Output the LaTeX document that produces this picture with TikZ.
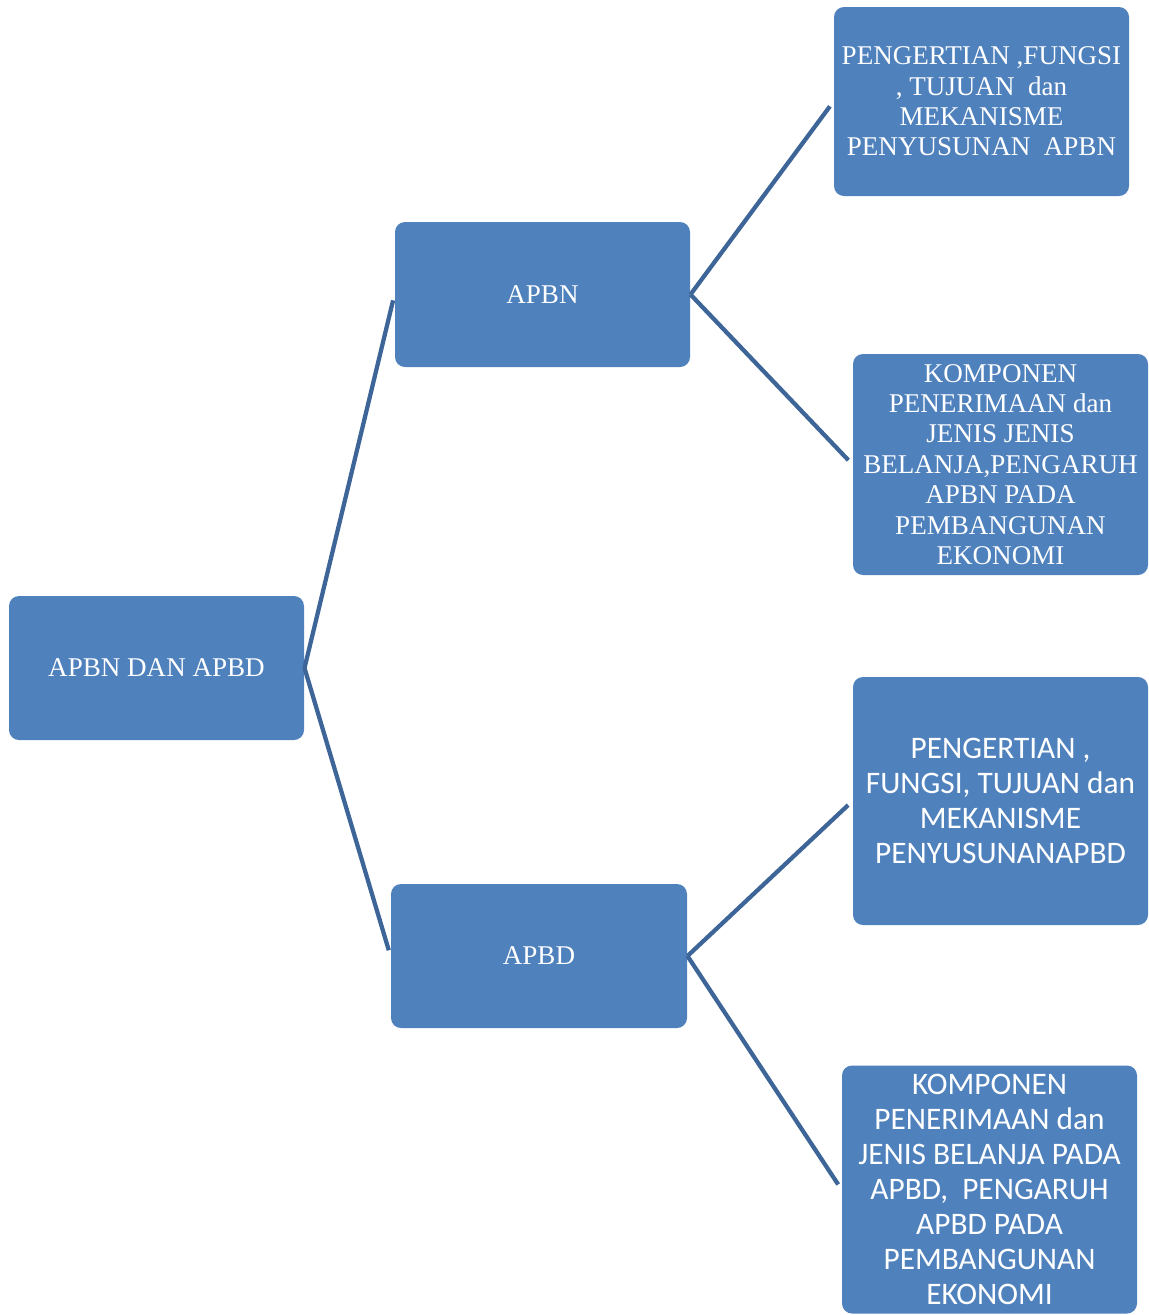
\documentclass[tikz,border=0pt]{standalone}
\usepackage{fontspec}
\setmainfont{Liberation Serif}
\newfontfamily\boxsans{Carlito}
\definecolor{boxblue}{RGB}{79,129,189}
\definecolor{linkblue}{RGB}{61,101,152}
\tikzset{
	box/.style={fill=boxblue, rounded corners=7.5pt, text=white, align=center,
		inner sep=0pt, font=\fontsize{20.3}{22.8}\selectfont},
	sansbox/.style={box, font=\boxsans\fontsize{23.5}{26.2}\selectfont},
	link/.style={draw=linkblue, line width=3.2pt, shorten >=4.5pt}}
\tikzset{every picture/.style={line width=0.75pt}}
\begin{document}
\begin{tikzpicture}[x=0.75pt,y=0.75pt,yscale=-1,xscale=1]
	\useasboundingbox (0,0) rectangle (1149,1315);

	% Nodes
	\node [box, minimum width=221.25pt, minimum height=108pt] (root) at (156.5,668) {APBN DAN APBD};
	\node [box, minimum width=221.25pt, minimum height=108.75pt] (apbn) at (542.5,294.5) {APBN};
	\node [box, minimum width=222pt, minimum height=108pt] (apbd) at (539,956) {APBD};
	\node [box, minimum width=221.25pt, minimum height=141.75pt] (apbnA) at (981.5,101.5) {PENGERTIAN ,FUNGSI\\, TUJUAN\ \ dan\\MEKANISME\\PENYUSUNAN\ \ APBN};
	\node [box, minimum width=221.25pt, minimum height=165.75pt] (apbnB) at (1000.5,464.5) {KOMPONEN\\PENERIMAAN dan\\JENIS JENIS\\BELANJA,PENGARUH\\APBN PADA\\PEMBANGUNAN\\EKONOMI};
	\node [sansbox, minimum width=221.25pt, minimum height=186pt] (apbdA) at (1000.5,801) {PENGERTIAN ,\\FUNGSI, TUJUAN dan\\MEKANISME\\PENYUSUNANAPBD};
	\node [sansbox, minimum width=221.25pt, minimum height=186pt] (apbdB) at (989.5,1189.5) {KOMPONEN\\PENERIMAAN dan\\JENIS BELANJA PADA\\APBD,\ \ PENGARUH\\APBD PADA\\PEMBANGUNAN\\EKONOMI};

	% Connectors
	\draw [link] (root.east) -- (apbn.west);
	\draw [link] (root.east) -- (apbd.west);
	\draw [link] (apbn.east) -- (apbnA.west);
	\draw [link] (apbn.east) -- (apbnB.west);
	\draw [link] (apbd.east) -- (apbdA.west);
	\draw [link] (apbd.east) -- (apbdB.west);

\end{tikzpicture}
\end{document}
